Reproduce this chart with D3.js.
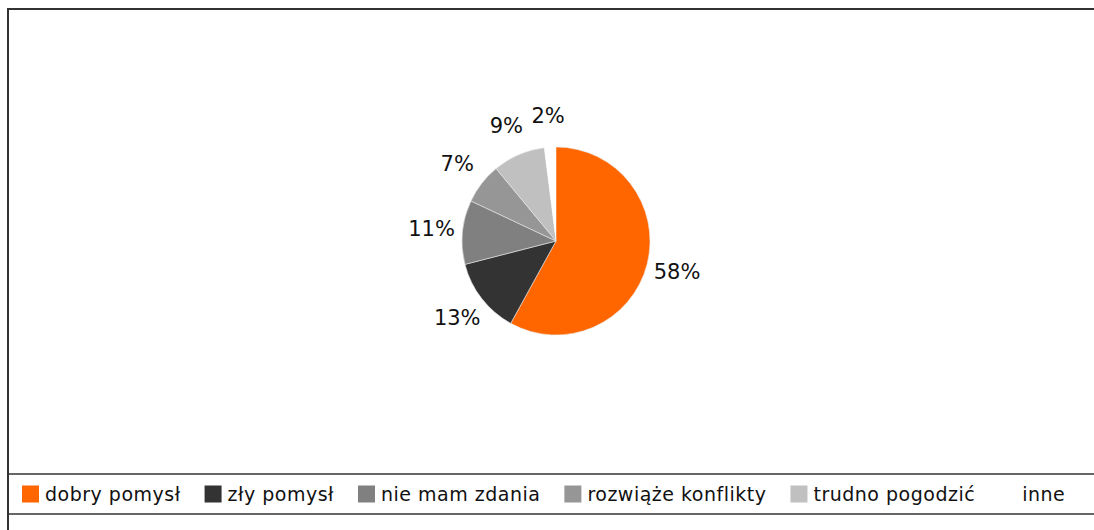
<!DOCTYPE html>
<html>
<head>
<meta charset="utf-8">
<script src="https://cdn.jsdelivr.net/npm/d3@7"></script>
<style>
  html, body { margin: 0; padding: 0; background: #fff; }
  svg { display: block; font-family: "Century Gothic", "DejaVu Sans", sans-serif; }
</style>
</head>
<body>
<div id="chart"></div>
<script>
// dane z wykresu
const categories = ["dobry pomysł", "zły pomysł", "nie mam zdania", "rozwiąże konflikty", "trudno pogodzić", "inne"];
const values = [58, 13, 11, 7, 9, 2];
const colors = ["#ff6600", "#333333", "#808080", "#969696", "#c0c0c0", "#ffffff"];

const width = 1094, height = 530;
const cx = 556, cy = 241, radius = 94, labelRadius = 125;

const svg = d3.select("#chart").append("svg")
  .attr("width", width)
  .attr("height", height);

// ramka wykresu (przycięta z prawej i z dołu)
svg.append("path")
  .attr("d", `M8,${height} V9 H${width}`)
  .attr("fill", "none")
  .attr("stroke", "#333")
  .attr("stroke-width", 2);

const data = categories.map((c, i) => ({ name: c, value: values[i], color: colors[i] }));

const pie = d3.pie().sort(null).value(d => d.value);
const arc = d3.arc().innerRadius(0).outerRadius(radius);
const labelArc = d3.arc().innerRadius(labelRadius).outerRadius(labelRadius);

const g = svg.append("g").attr("transform", `translate(${cx},${cy})`);
const arcs = pie(data);

g.selectAll("path.slice")
  .data(arcs)
  .join("path")
    .attr("class", "slice")
    .attr("d", arc)
    .attr("fill", d => d.data.color)
    .attr("stroke", d => d.data.color === "#ffffff" ? "none" : "#e8e8e8")
    .attr("stroke-width", 0.6);

g.selectAll("text.lbl")
  .data(arcs)
  .join("text")
    .attr("class", "lbl")
    .attr("transform", d => `translate(${labelArc.centroid(d)})`)
    .attr("text-anchor", "middle")
    .attr("dominant-baseline", "central")
    .style("font-size", "21px")
    .style("fill", "#111")
    .text(d => d.data.value + "%");

// legenda
const legendTop = 474, legendBottom = 514;
svg.append("line")
  .attr("x1", 8).attr("x2", width)
  .attr("y1", legendTop).attr("y2", legendTop)
  .attr("stroke", "#333").attr("stroke-width", 1.5);
svg.append("line")
  .attr("x1", 8).attr("x2", width)
  .attr("y1", legendBottom).attr("y2", legendBottom)
  .attr("stroke", "#333").attr("stroke-width", 1.5);

const legend = svg.append("g");
let lx = 22;
const midY = (legendTop + legendBottom) / 2;
data.forEach(d => {
  const item = legend.append("g").attr("transform", `translate(${lx},${midY})`);
  item.append("rect")
    .attr("x", 0).attr("y", -8.5)
    .attr("width", 17).attr("height", 17)
    .attr("fill", d.color);
  const t = item.append("text")
    .attr("x", 23)
    .attr("dominant-baseline", "central")
    .style("font-size", "19px")
    .style("letter-spacing", "0.5px")
    .style("fill", "#111")
    .text(d.name);
  lx += 23 + t.node().getComputedTextLength() + 24;
});
</script>
</body>
</html>
